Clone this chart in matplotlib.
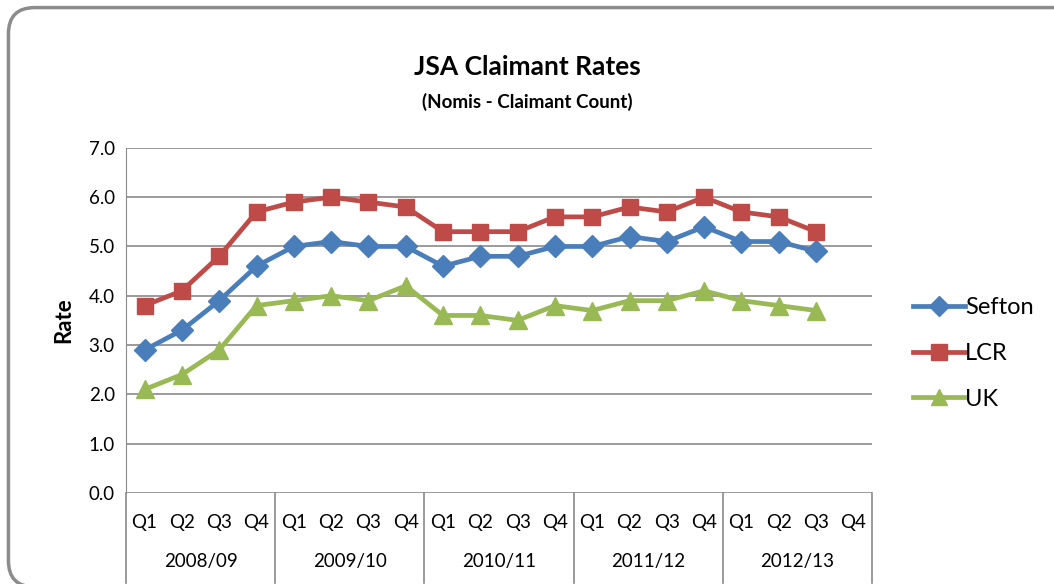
import numpy as np
import matplotlib.pyplot as plt
from matplotlib.patches import FancyBboxPatch
from matplotlib.lines import Line2D

plt.rcParams['font.family'] = ['Lato', 'DejaVu Sans']

# data
years = ["2008/09", "2009/10", "2010/11", "2011/12", "2012/13"]
quarters = ["Q1", "Q2", "Q3", "Q4"]
sefton = [2.9, 3.3, 3.9, 4.6, 5.0, 5.1, 5.0, 5.0, 4.6, 4.8, 4.8, 5.0, 5.0, 5.2, 5.1, 5.4, 5.1, 5.1, 4.9]
lcr = [3.8, 4.1, 4.8, 5.7, 5.9, 6.0, 5.9, 5.8, 5.3, 5.3, 5.3, 5.6, 5.6, 5.8, 5.7, 6.0, 5.7, 5.6, 5.3]
uk = [2.1, 2.4, 2.9, 3.8, 3.9, 4.0, 3.9, 4.2, 3.6, 3.6, 3.5, 3.8, 3.7, 3.9, 3.9, 4.1, 3.9, 3.8, 3.7]

ncat = len(years) * len(quarters)
x = np.arange(len(sefton))

fig = plt.figure(figsize=(10.54, 5.84), dpi=100)

# rounded frame (runs off right and bottom edges)
frame = FancyBboxPatch((0.008, -0.005), 1.05, 0.992, boxstyle="round,pad=0,rounding_size=0.025",
                       transform=fig.transFigure, facecolor='none', edgecolor='#8c8c8c',
                       linewidth=2.5, mutation_aspect=1.8, zorder=0)
fig.patches.append(frame)

ax = fig.add_axes([0.1195, 0.156, 0.7078, 0.5908])
ax.set_facecolor('none')

series = [("Sefton", sefton, '#4A7EBB', 'D', 11),
          ("LCR", lcr, '#BE4B48', 's', 12),
          ("UK", uk, '#98B954', '^', 13)]
handles = []
for name, vals, col, mk, ms in series:
    ax.plot(x, vals, color=col, lw=3.4, marker=mk, markersize=ms, zorder=3)
    handles.append(Line2D([0], [0], color=col, lw=3.4, marker=mk, markersize=ms - 1))

ax.set_xlim(-0.5, ncat - 0.5)
ax.set_ylim(0, 7)
ax.set_yticks(np.arange(0, 7.1, 1))
ax.set_yticklabels([f"{v:.1f}" for v in np.arange(0, 7.1, 1)], fontsize=13.5)
ax.yaxis.grid(True, color='#8a8a8a', lw=1.2)
ax.set_axisbelow(True)
for s in ['top', 'right', 'bottom']:
    ax.spines[s].set_visible(False)
ax.spines['left'].set_color('#8a8a8a')
ax.tick_params(axis='y', length=0, pad=8)
ax.set_xticks([])
ax.set_ylabel("Rate", fontsize=16, fontweight='bold', labelpad=10)

# two-level category axis
trans = ax.get_xaxis_transform()
for i in range(ncat):
    ax.text(i, -0.085, quarters[i % 4], transform=trans, ha='center', va='center', fontsize=13.5)
for j, yr in enumerate(years):
    ax.text(4 * j + 1.5, -0.2, yr, transform=trans, ha='center', va='center', fontsize=13.5)
for j in range(len(years) + 1):
    ax.plot([4 * j - 0.5] * 2, [0, -0.26], transform=trans, color='#8a8a8a', lw=1.2, clip_on=False)

fig.text(0.5, 0.885, "JSA Claimant Rates", ha='center', va='center', fontsize=19, fontweight='bold')
fig.text(0.5, 0.826, "(Nomis - Claimant Count)", ha='center', va='center', fontsize=13.5, fontweight='bold')

fig.legend(handles, [s[0] for s in series], loc='center left', bbox_to_anchor=(0.846, 0.395),
           frameon=False, fontsize=17, handlelength=2.2, handletextpad=0.0, labelspacing=1.05)

fig.savefig("out.png", dpi=100)
